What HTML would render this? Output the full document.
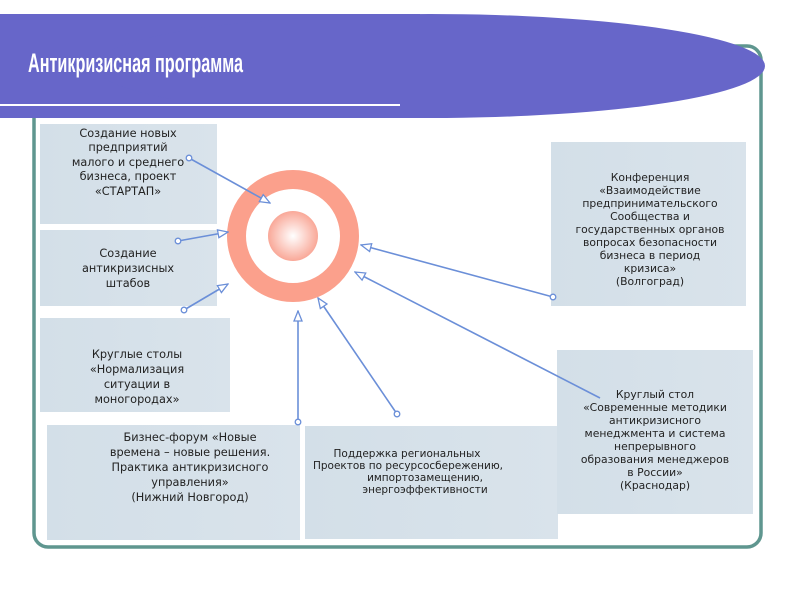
<!DOCTYPE html>
<html><head><meta charset="utf-8"><style>
body{margin:0;width:800px;height:600px;background:#fff;overflow:hidden;font-family:"Liberation Sans","DejaVu Sans",sans-serif}
svg{position:absolute;left:0;top:0}
.t{font-family:"DejaVu Sans","Liberation Sans",sans-serif;font-size:11.3px;fill:#222;text-anchor:middle}
</style></head><body>
<svg width="800" height="600" viewBox="0 0 800 600">
<defs>
<radialGradient id="g" cx="0.5" cy="0.5" r="0.5"><stop offset="0" stop-color="#fff"/><stop offset="1" stop-color="#f9a898"/></radialGradient>
<linearGradient id="bx" x1="0" x2="1"><stop offset="0" stop-color="#d3dfe8"/><stop offset="1" stop-color="#d9e3eb"/></linearGradient>
<marker id="a" markerWidth="12" markerHeight="10" refX="11" refY="5" orient="auto" markerUnits="userSpaceOnUse"><path d="M1,1 L11,5 L1,9 Z" fill="#fff" stroke="#6b8fd8" stroke-width="1.3"/></marker>
</defs>
<rect x="34" y="46" width="727" height="501" rx="14" fill="none" stroke="#5f968f" stroke-width="3.5"/>
<rect x="0" y="14" width="420" height="104" fill="#6766c9"/>
<ellipse cx="430" cy="66" rx="335" ry="52" fill="#6766c9"/>
<rect x="0" y="104" width="400" height="2" fill="#fff"/>
<g transform="translate(28,72) scale(0.6,1)"><text x="0" y="0" font-family="Liberation Sans" font-weight="bold" font-size="27" fill="#fff">Антикризисная программа</text></g>
<rect x="40" y="124" width="177" height="100" fill="url(#bx)"/>
<rect x="40" y="230" width="177" height="76" fill="url(#bx)"/>
<rect x="40" y="318" width="190" height="94" fill="url(#bx)"/>
<rect x="47" y="425" width="253" height="115" fill="url(#bx)"/>
<rect x="305" y="426" width="253" height="113" fill="url(#bx)"/>
<rect x="551" y="142" width="195" height="164" fill="url(#bx)"/>
<rect x="557" y="350" width="196" height="164" fill="url(#bx)"/>
<text class="t"><tspan x="128" y="137">Создание новых</tspan><tspan x="128" y="151">предприятий</tspan><tspan x="128" y="166">малого и среднего</tspan><tspan x="128" y="180">бизнеса, проект</tspan><tspan x="128" y="195">«СТАРТАП»</tspan></text>
<text class="t"><tspan x="128" y="257">Создание</tspan><tspan x="128" y="272">антикризисных</tspan><tspan x="128" y="287">штабов</tspan></text>
<text class="t"><tspan x="137" y="358">Круглые столы</tspan><tspan x="137" y="373">«Нормализация</tspan><tspan x="137" y="388">ситуации в</tspan><tspan x="137" y="403">моногородах»</tspan></text>
<text class="t"><tspan x="190" y="441">Бизнес-форум «Новые</tspan><tspan x="190" y="456">времена – новые решения.</tspan><tspan x="190" y="471">Практика антикризисного</tspan><tspan x="190" y="486">управления»</tspan><tspan x="190" y="501">(Нижний Новгород)</tspan></text>
<text class="t" style="font-size:10.5px"><tspan x="407" y="457">Поддержка региональных</tspan><tspan x="408" y="469">Проектов по ресурсосбережению,</tspan><tspan x="425" y="481">импортозамещению,</tspan><tspan x="425" y="493">энергоэффективности</tspan></text>
<text class="t" style="font-size:10.8px"><tspan x="650" y="181">Конференция</tspan><tspan x="650" y="194">«Взаимодействие</tspan><tspan x="650" y="207">предпринимательского</tspan><tspan x="650" y="220">Сообщества и</tspan><tspan x="650" y="233">государственных органов</tspan><tspan x="650" y="246">вопросах безопасности</tspan><tspan x="650" y="259">бизнеса в период</tspan><tspan x="650" y="272">кризиса»</tspan><tspan x="650" y="285">(Волгоград)</tspan></text>
<text class="t" style="font-size:10.8px"><tspan x="655" y="398">Круглый стол</tspan><tspan x="655" y="411">«Современные методики</tspan><tspan x="655" y="424">антикризисного</tspan><tspan x="655" y="437">менеджмента и система</tspan><tspan x="655" y="450">непрерывного</tspan><tspan x="655" y="463">образования менеджеров</tspan><tspan x="655" y="476">в России»</tspan><tspan x="655" y="489">(Краснодар)</tspan></text>
<circle cx="293" cy="236" r="56.5" fill="none" stroke="#fba08c" stroke-width="19"/>
<circle cx="293" cy="236" r="25" fill="url(#g)"/>
<g stroke="#6b8fd8" stroke-width="1.6" fill="none" marker-end="url(#a)">
<line x1="189" y1="158" x2="270" y2="203"/>
<line x1="178" y1="241" x2="228" y2="232"/>
<line x1="184" y1="310" x2="228" y2="284"/>
<line x1="298" y1="422" x2="298" y2="311"/>
<line x1="397" y1="414" x2="318" y2="298"/>
<line x1="553" y1="297" x2="361" y2="245"/>
<line x1="600" y1="398" x2="355" y2="272"/>
</g>
<g fill="#fff" stroke="#6b8fd8" stroke-width="1.3">
<circle cx="189" cy="158" r="2.8"/><circle cx="178" cy="241" r="2.8"/><circle cx="184" cy="310" r="2.8"/><circle cx="298" cy="422" r="2.8"/><circle cx="397" cy="414" r="2.8"/><circle cx="553" cy="297" r="2.8"/>
</g>
</svg>
</body></html>
